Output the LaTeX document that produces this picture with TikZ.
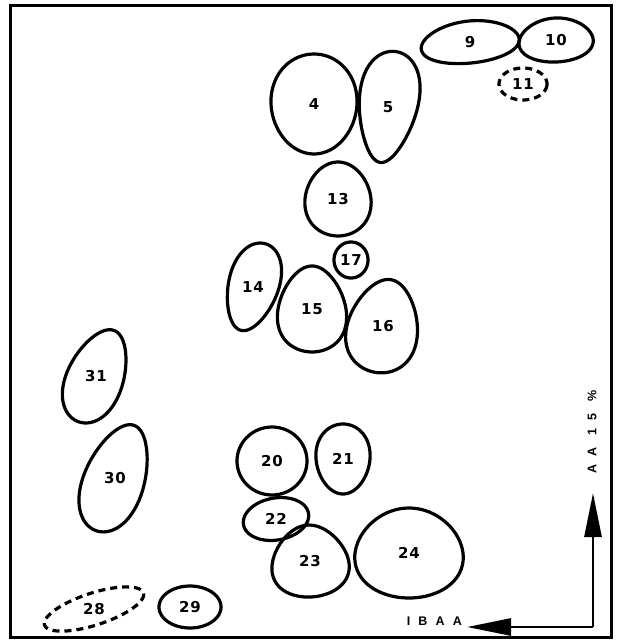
\documentclass[tikz,border=0pt]{standalone}
\usepackage{fontspec}
\setmainfont{Liberation Sans}
\newfontfamily\spotfont{DejaVu Sans}
\usepackage{tikz}
\usetikzlibrary{arrows.meta}
\tikzset{
  frame/.style={line width=3pt, draw=black},
  spot/.style={line width=3.2pt, draw=black, line join=round},
  faint/.style={dashed, dash pattern=on 7pt off 5pt},
  spotlabel/.style={font=\spotfont\fontsize{15}{16}\selectfont\bfseries\addfontfeature{LetterSpace=6}, inner sep=0pt},
  axis/.style={line width=2.8pt, -{Triangle[length=44pt, width=17pt]}},
  axislabel/.style={font=\fontsize{12.5}{14}\selectfont\bfseries\addfontfeature{LetterSpace=65}, inner sep=0pt}
}
% spot: [extra style]{name}{x}{y}{x radius}{y radius}{tilt}{egg}{label}
\newcommand{\spot}[9][]{%
  \draw[spot, #1, shift={(#3,#4)}, rotate=-#7]
    plot[domain=0:360, samples=72, smooth cycle, variable=\t]
    ({#5*cos(\t)*(1+#8*sin(\t))}, {#6*sin(\t)});
  \node[spotlabel] (#2) at (#3,#4) {#9};
}

\begin{document}
\begin{tikzpicture}[x=1pt,y=-1pt]
\useasboundingbox (0,0) rectangle (621,642);
\fill[white] (0,0) rectangle (621,642);
\draw[frame] (10,6) rectangle (611,637);

\spot{s9}{470}{42}{49}{21}{-6}{0.1}{9}
\spot{s10}{556}{40}{37}{22}{-3}{0.1}{10}
\spot[faint]{s11}{523}{84}{24}{16}{0}{0}{11}
\spot{s4}{314}{104}{43}{50}{0}{-0.05}{4}
\spot{s5}{388}{107}{29}{56}{8}{-0.25}{5}
\spot{s13}{338}{199}{33}{37}{0}{0.1}{13}
\spot{s17}{351}{260}{17}{18}{0}{0}{17}
\spot{s14}{253}{287}{25}{45}{16}{-0.15}{14}
\spot{s15}{312}{309}{34}{43}{0}{0.2}{15}
\spot{s16}{383}{326}{35}{47}{10}{0.2}{16}
\spot{s31}{96}{376}{28}{49}{22}{0.15}{31}
\spot{s30}{115}{478}{30}{56}{20}{0.15}{30}
\spot{s20}{272}{461}{35}{34}{0}{0}{20}
\spot{s21}{343}{459}{27}{35}{0}{-0.1}{21}
\spot{s22}{276}{519}{33}{21}{-10}{0}{22}
\spot{s23}{310}{561}{38}{36}{-5}{0.2}{23}
\spot{s24}{409}{553}{54}{45}{0}{0.1}{24}
\spot[faint]{s28}{94}{609}{52}{16}{-18}{0}{28}
\spot{s29}{190}{607}{31}{21}{0}{0}{29}

% axes in the lower right corner
\coordinate (corner) at (593,627);
\coordinate (uptip) at (593,493);
\coordinate (lefttip) at (467,627);
\draw[axis] (corner) -- (uptip);
\draw[axis] (corner) -- (lefttip);
\node[axislabel, anchor=east] (ibaa) at (462,621) {IBAA};
\node[axislabel, rotate=90] (aa) at (592,432) {AA 15 \%};
\end{tikzpicture}
\end{document}
